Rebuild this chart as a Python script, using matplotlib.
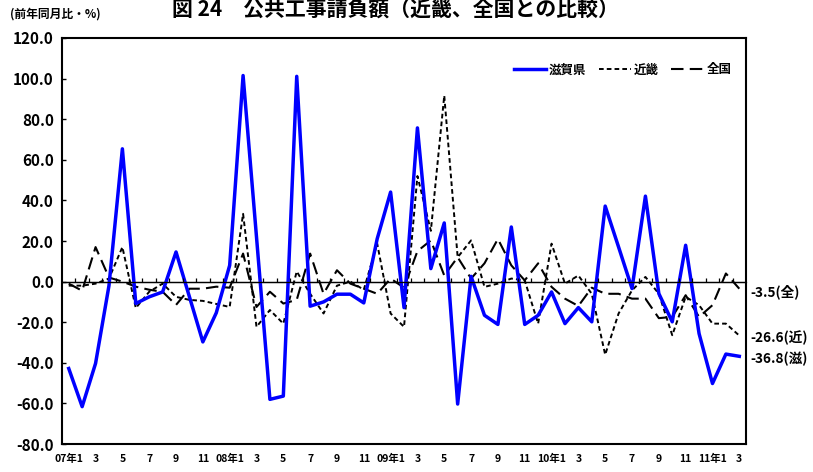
import matplotlib
matplotlib.use("Agg")
import matplotlib.pyplot as plt
from matplotlib.ticker import FixedLocator, FuncFormatter

plt.rcParams['font.family'] = ['Noto Sans CJK JP', 'DejaVu Sans']
plt.rcParams['font.weight'] = 'bold'

# Month labels: Jan 2007 .. Mar 2011, labelled every second month
tick_labels = ["07年1", "3", "5", "7", "9", "11",
               "08年1", "3", "5", "7", "9", "11",
               "09年1", "3", "5", "7", "9", "11",
               "10年1", "3", "5", "7", "9", "11",
               "11年1", "3"]

# Year-on-year change of public works contracts (%)
shiga = [-42.8, -61.6, -40.3, -2.0, 65.4, -10.8, -7.5, -5.1, 14.6, -7.5, -29.7, -15.4, 8.0,
         101.5, 22.0, -58.0, -56.4, 101.1, -12.1, -10.0, -6.2, -6.2, -10.5, 21.1, 44.1, -12.8,
         75.7, 6.4, 28.9, -60.3, 2.6, -16.6, -21.1, 26.9, -21.1, -16.6, -5.1, -20.7, -12.8,
         -19.8, 37.2, 17.0, -3.4, 42.1, -5.9, -19.8, 17.9, -25.6, -50.2, -35.7, -36.8]

kinki = [-2.0, -2.0, -1.0, 1.5, 17.0, -13.0, -5.0, -1.0, -7.5, -9.0, -9.5, -11.0, -12.5,
         33.4, -22.3, -14.0, -20.7, 5.0, -6.0, -15.7, -2.0, 0.0, -4.0, 18.7, -15.7, -22.3,
         52.0, 25.0, 91.6, 12.0, 20.3, -2.6, -1.0, 1.5, 0.6, -20.7, 18.7, -1.0, 3.0,
         -6.0, -36.0, -15.7, -4.3, 2.3, -6.0, -26.4, -7.5, -11.6, -20.7, -20.7, -26.6]

zenkoku = [-1.0, -4.5, 17.0, 2.0, 0.0, -2.5, -4.0, -5.0, -11.5, -3.5, -3.5, -2.5, -3.0,
           13.8, -12.5, -5.0, -10.8, -9.0, 13.8, -6.0, 5.6, -1.0, -3.5, -6.0, 1.5, -3.0,
           15.0, 20.3, 3.0, 12.0, 1.5, 9.0, 21.0, 8.0, 0.6, 9.0, -2.6, -8.4, -12.0,
           -3.0, -6.0, -6.0, -8.4, -8.4, -18.0, -17.4, -6.7, -17.4, -11.6, 4.0, -3.5]

series_names = ["滋賀県", "近畿", "全国"]
end_tags = ["(滋)", "(近)", "(全)"]

x = list(range(len(shiga)))

fig = plt.figure(figsize=(8.13, 4.72), dpi=100)
ax = fig.add_axes([0.0763, 0.0593, 0.8413, 0.8602])

ax.plot(x, shiga, color="#0000ff", lw=2.5, label=series_names[0], zorder=3)
ax.plot(x, kinki, color="black", lw=1.4, linestyle=(0, (2.4, 1.6)), label=series_names[1], zorder=2)
ax.plot(x, zenkoku, color="black", lw=1.5, linestyle=(0, (6, 3)), label=series_names[2], zorder=2)

ax.set_xlim(-0.5, len(x) - 0.5)
ax.set_ylim(-80, 120)
ax.yaxis.set_major_locator(FixedLocator(range(-80, 121, 20)))
ax.yaxis.set_major_formatter(FuncFormatter(lambda v, p: f"{v:.1f}"))
ax.tick_params(axis="y", direction="in", length=3, width=1, labelsize=11, pad=6)
ax.set_xticks(x[::2])
ax.set_xticklabels(tick_labels, fontsize=7.5, fontweight="bold")
ax.tick_params(axis="x", length=0, pad=7)
for s in ax.spines.values():
    s.set_linewidth(1.5)

# zero line with month-boundary ticks
ax.axhline(0, color="black", lw=0.9, zorder=1)
ax0 = ax.twiny()
ax0.set_xlim(ax.get_xlim())
ax0.spines['top'].set_visible(False)
ax0.spines['left'].set_visible(False)
ax0.spines['right'].set_visible(False)
ax0.spines['bottom'].set_position(('data', 0))
ax0.spines['bottom'].set_linewidth(0.9)
ax0.xaxis.set_ticks_position('bottom')
ax0.set_xticks([i + 0.5 for i in x[:-1]])
ax0.tick_params(axis="x", direction="in", length=3, width=0.9, labelbottom=False, labeltop=False)

leg = ax.legend(loc="upper right", bbox_to_anchor=(0.995, 0.965), ncol=3, frameon=False,
                fontsize=9, handlelength=2.6, handletextpad=0.2, columnspacing=1.0)
for t in leg.get_texts():
    t.set_fontweight("bold")

# end-of-series value labels on the right
for vals, tag in zip([shiga, kinki, zenkoku], end_tags):
    ax.annotate(f"{vals[-1]:.1f}{tag}", xy=(1.0, vals[-1]), xycoords=("axes fraction", "data"),
                xytext=(3, -2), textcoords="offset points", va="center", ha="left",
                fontsize=9.8, fontweight="bold", annotation_clip=False)

fig.text(0.012, 0.970, "(前年同月比・%)", fontsize=8.5, fontweight="bold", va="center", ha="left")
fig.text(0.487, 0.978, "図 24　公共工事請負額（近畿、全国との比較）", fontsize=15,
         fontweight="bold", va="center", ha="center")

fig.savefig("out.png", dpi=100)
